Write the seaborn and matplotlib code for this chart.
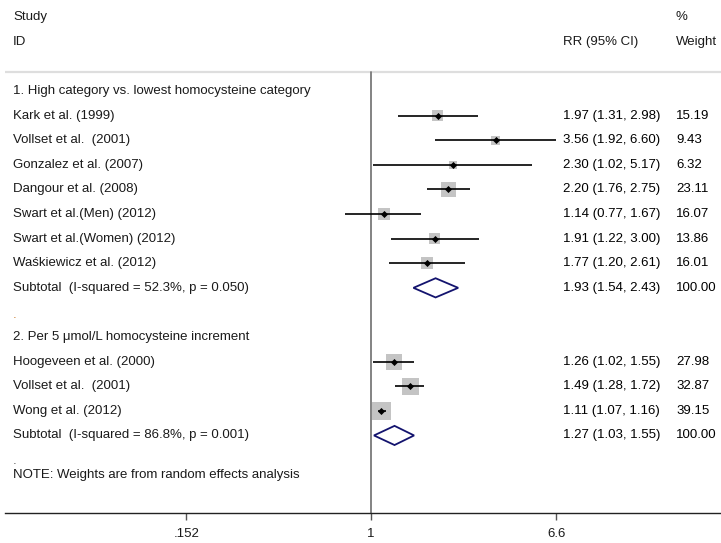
import matplotlib
matplotlib.use("Agg")
import matplotlib.pyplot as plt
import matplotlib.transforms as mtransforms
import numpy as np
import pandas as pd
import seaborn as sns

# ---------------- data ----------------
group_titles = ["1. High category vs. lowest homocysteine category",
                "2. Per 5 \u03bcmol/L homocysteine increment"]

g1_studies = ["Kark et al. (1999)", "Vollset et al.  (2001)", "Gonzalez et al. (2007)",
              "Dangour et al. (2008)", "Swart et al.(Men) (2012)", "Swart et al.(Women) (2012)",
              "Wa\u015bkiewicz et al. (2012)"]
g1_rr = [1.97, 3.56, 2.30, 2.20, 1.14, 1.91, 1.77]
g1_lo = [1.31, 1.92, 1.02, 1.76, 0.77, 1.22, 1.20]
g1_hi = [2.98, 6.60, 5.17, 2.75, 1.67, 3.00, 2.61]
g1_weight = [15.19, 9.43, 6.32, 23.11, 16.07, 13.86, 16.01]
g1_subtotal_label = "Subtotal  (I-squared = 52.3%, p = 0.050)"
g1_subtotal = [1.93, 1.54, 2.43]

g2_studies = ["Hoogeveen et al. (2000)", "Vollset et al.  (2001)", "Wong et al. (2012)"]
g2_rr = [1.26, 1.49, 1.11]
g2_lo = [1.02, 1.28, 1.07]
g2_hi = [1.55, 1.72, 1.16]
g2_weight = [27.98, 32.87, 39.15]
g2_subtotal_label = "Subtotal  (I-squared = 86.8%, p = 0.001)"
g2_subtotal = [1.27, 1.03, 1.55]

tick_values = [0.152, 1, 6.6]
tick_labels = [".152", "1", "6.6"]
note_text = "NOTE: Weights are from random effects analysis"

# ---------------- layout ----------------
FONT = ["Liberation Sans", "DejaVu Sans"]
sns.set_style("white")
plt.rcParams["font.family"] = FONT

rows_g1 = np.arange(1, 1 + len(g1_studies))
sub1_row = rows_g1[-1] + 1
title2_row = sub1_row + 2
rows_g2 = np.arange(title2_row + 1, title2_row + 1 + len(g2_studies))
sub2_row = rows_g2[-1] + 1

df = pd.DataFrame({
    "study": g1_studies + g2_studies,
    "rr": g1_rr + g2_rr,
    "lo": g1_lo + g2_lo,
    "hi": g1_hi + g2_hi,
    "weight": g1_weight + g2_weight,
    "row": np.concatenate([rows_g1, rows_g2]),
})

fig = plt.figure(figsize=(7.21, 5.43), dpi=100)
ax = fig.add_axes([5 / 721, (543 - 512.7) / 543, 716 / 721, 512.7 / 543])
ax.set_xscale("log")
ax.set_xlim(0.02396, 35.4)
ax.set_ylim(17.14, -3.70)

# header line and null line
ax.axhline(-0.78, color="#dedede", lw=1.6, zorder=1)
ax.plot([1, 1], [-0.78, 17.14], color="#7a7a7a", lw=1.3, zorder=1)

# CI lines
ax.hlines(df["row"], df["lo"], df["hi"], color="black", lw=1.2, zorder=3)
# weight boxes
sns.scatterplot(data=df, x="rr", y="row", marker="s", color="#c4c4c4",
                s=df["weight"] * 4.6, linewidth=0, ax=ax, zorder=2, legend=False)
# point estimates
sns.scatterplot(data=df, x="rr", y="row", marker="D", color="black",
                s=13, linewidth=0, ax=ax, zorder=4, legend=False)

# subtotal diamonds
for (est, lo, hi), r in [(g1_subtotal, sub1_row), (g2_subtotal, sub2_row)]:
    h = 0.39
    ax.fill([lo, est, hi, est, lo], [r, r - h, r, r + h, r],
            facecolor="none", edgecolor="#13136e", lw=1.3, zorder=4)

# text columns
tr = mtransforms.blended_transform_factory(ax.transAxes, ax.transData)
xl, xrr, xw = 8 / 716, 558 / 716, 671 / 716
fs = 9.5
tc = "#1a1a1a"

ax.text(xl, -3, "Study", transform=tr, fontsize=fs, va="center", color=tc)
ax.text(xl, -2, "ID", transform=tr, fontsize=fs, va="center", color=tc)
ax.text(xrr, -2, "RR (95% CI)", transform=tr, fontsize=fs, va="center", color=tc)
ax.text(xw, -3, "%", transform=tr, fontsize=fs, va="center", color=tc)
ax.text(xw, -2, "Weight", transform=tr, fontsize=fs, va="center", color=tc)

ax.text(xl, 0, group_titles[0], transform=tr, fontsize=fs, va="center", color=tc)
ax.text(xl, title2_row, group_titles[1], transform=tr, fontsize=fs, va="center", color=tc)

for _, r in df.iterrows():
    ax.text(xl, r["row"], r["study"], transform=tr, fontsize=fs, va="center", color=tc)
    ax.text(xrr, r["row"], f"{r['rr']:.2f} ({r['lo']:.2f}, {r['hi']:.2f})",
            transform=tr, fontsize=fs, va="center", color="black")
    ax.text(xw, r["row"], f"{r['weight']:.2f}", transform=tr, fontsize=fs,
            va="center", color="black")

for lab, (est, lo, hi), r in [(g1_subtotal_label, g1_subtotal, sub1_row),
                              (g2_subtotal_label, g2_subtotal, sub2_row)]:
    ax.text(xl, r, lab, transform=tr, fontsize=fs, va="center", color=tc)
    ax.text(xrr, r, f"{est:.2f} ({lo:.2f}, {hi:.2f})", transform=tr,
            fontsize=fs, va="center", color="black")
    ax.text(xw, r, "100.00", transform=tr, fontsize=fs, va="center", color="black")

ax.text(xl, sub1_row + 1.1, ".", transform=tr, fontsize=fs, va="center", color="#c87a2a")
ax.text(xl, sub2_row + 1.05, ".", transform=tr, fontsize=fs, va="center", color="#555555")
ax.text(xl, sub2_row + 1.6, note_text, transform=tr, fontsize=fs, va="center", color=tc)

# axis styling
for s in ["top", "right", "left"]:
    ax.spines[s].set_visible(False)
ax.spines["bottom"].set_color("#222222")
ax.spines["bottom"].set_linewidth(1.0)
ax.set_xticks(tick_values)
ax.set_xticklabels(tick_labels)
ax.xaxis.set_minor_locator(matplotlib.ticker.NullLocator())
ax.tick_params(axis="x", direction="out", length=5, width=1, color="#555555",
               labelsize=fs, labelcolor=tc, pad=6, bottom=True)
ax.set_yticks([])
ax.set_xlabel("")
ax.set_ylabel("")

fig.savefig("out.png", dpi=100)
